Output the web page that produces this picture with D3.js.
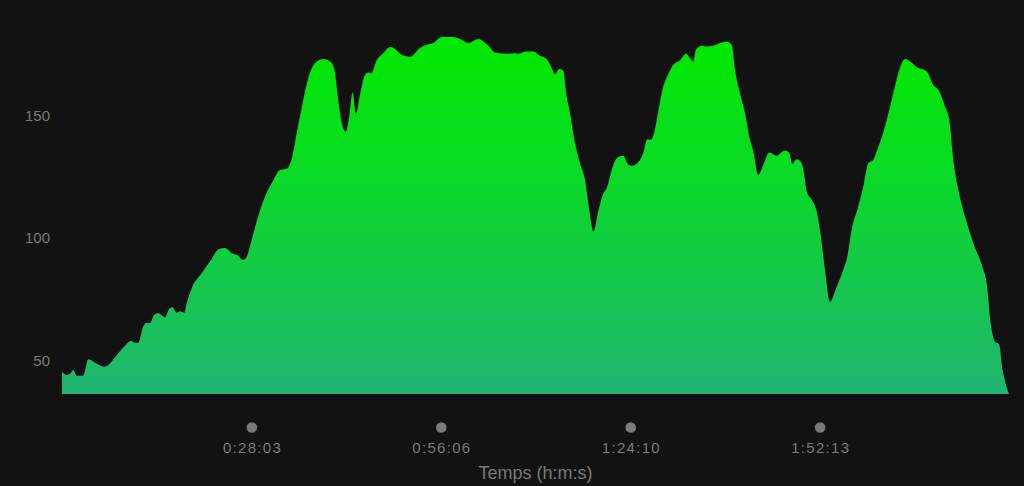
<!DOCTYPE html>
<html>
<head>
<meta charset="utf-8">
<script src="https://cdn.jsdelivr.net/npm/d3@7"></script>
<style>
  html, body { margin: 0; padding: 0; background: #121212; }
  svg { display: block; }
  .axis text { fill: #7a7a7a; font-family: "Liberation Sans", Arial, sans-serif; }
</style>
</head>
<body>
<div id="wrapper"></div>
<script>
// heart rate over time (seconds, bpm)
const times = [0,42,71,100,131,189,234,293,376,411,471,560,613,643,678,723,753,782,820,856,915,951,980,1019,1049,1087,1108,1153,1241,1315,1395,1449,1508,1561,1606,1641,1686,1730,1804,1872,1937,2002,2050,2086,2130,2189,2248,2322,2382,2417,2455,2486,2521,2553,2583,2613,2648,2693,2722,2752,2791,2855,2915,2959,3019,3093,3182,3241,3300,3374,3478,3552,3611,3700,3744,3789,3848,3952,4026,4055,4115,4188,4248,4307,4352,4381,4420,4455,4485,4515,4559,4603,4648,4686,4722,4766,4811,4841,4885,4930,4988,5033,5063,5137,5166,5201,5232,5261,5299,5344,5379,5433,5492,5545,5581,5610,5634,5685,5714,5788,5848,5907,5952,5981,6025,6070,6114,6144,6188,6233,6286,6351,6425,6464,6490,6529,6565,6594,6618,6663,6707,6736,6781,6825,6885,6943,6979,7018,7077,7121,7166,7210,7240,7314,7388,7447,7492,7536,7596,7685,7743,7788,7847,7885,7921,7966,8025,8099,8188,8218,8253,8292,8327,8360,8416];
const heartRate = [45.1,43.8,44.2,45.8,43.5,43.5,50.2,48.8,47.2,47.8,51.0,55.7,57.8,57.0,57.0,63.8,65.2,65.0,68.4,69.0,67.4,70.7,71.5,69.3,69.9,69.3,73.1,79.3,85.4,90.2,95.3,95.7,93.6,92.8,90.9,92.2,99.1,106.6,116.8,123.0,127.7,128.3,133.9,142.8,153.0,165.3,171.4,173.1,172.1,169.4,156.4,146.9,143.4,149.6,159.4,150.7,158.5,166.6,167.6,167.3,172.1,175.5,178.0,177.2,174.8,174.0,177.6,178.9,179.6,182.1,182.1,181.0,179.6,181.3,180.3,178.5,175.8,175.2,175.5,175.2,176.2,176.2,174.4,173.1,169.4,166.9,169.0,168.3,157.8,151.0,138.7,130.5,123.6,111.4,102.5,110.7,118.2,120.2,127.7,132.5,133.5,129.8,129.4,131.8,134.6,140.3,140.0,142.5,151.6,161.9,165.9,170.7,172.5,175.2,173.5,172.1,176.9,178.5,178.2,178.5,179.6,180.3,178.9,168.7,159.1,151.0,140.0,135.2,125.7,129.8,134.8,133.5,135.6,134.6,130.2,132.1,131.1,126.4,118.9,115.5,110.7,103.2,86.8,73.8,79.9,86.8,92.2,103.2,112.7,120.9,130.5,131.8,135.2,145.5,159.1,169.4,173.1,172.1,169.8,168.0,162.5,160.5,153.7,148.2,131.8,119.5,108.6,97.7,86.8,81.3,65.0,57.4,56.5,45.8,36.0];

const yTicks = [50, 100, 150];
const xTickSeconds = [1683, 3366, 5050, 6733];
const xTickLabels = ["0:28:03", "0:56:06", "1:24:10", "1:52:13"];
const xTitle = "Temps (h:m:s)";

const data = d3.zip(times, heartRate).map(([t, v]) => ({t, v}));

const dimension = {
    width: 1024,
    height: 486,
    margin: { top: 37, left: 62, bottom: 92, right: 15 }
};
dimension.boundedWidth = dimension.width - dimension.margin.left - dimension.margin.right;
dimension.boundedHeight = dimension.height - dimension.margin.top - dimension.margin.bottom;

const svg = d3.select("#wrapper").append("svg")
    .attr("width", dimension.width)
    .attr("height", dimension.height);

svg.append("rect")
    .attr("width", dimension.width)
    .attr("height", dimension.height)
    .attr("fill", "#121212");

const bounded = svg.append("g")
    .attr("transform", `translate(${dimension.margin.left},${dimension.margin.top})`);

const xScale = d3.scaleLinear()
    .domain(d3.extent(times))
    .range([0, dimension.boundedWidth]);

const yScale = d3.scaleLinear()
    .domain(d3.extent(heartRate))
    .range([dimension.boundedHeight, 0]);

// gradient fill
const grad = svg.append("defs").append("linearGradient")
    .attr("id", "hrFill")
    .attr("gradientUnits", "userSpaceOnUse")
    .attr("x1", 0).attr("x2", 0)
    .attr("y1", 0).attr("y2", dimension.boundedHeight);
grad.append("stop").attr("offset", "0%").attr("stop-color", "#00e800");
grad.append("stop").attr("offset", "35%").attr("stop-color", "#08dc22");
grad.append("stop").attr("offset", "100%").attr("stop-color", "#21b573");

const area = d3.area()
    .x(d => xScale(d.t))
    .y0(dimension.boundedHeight)
    .y1(d => yScale(d.v))
    .curve(d3.curveMonotoneX);

bounded.append("path")
    .datum(data)
    .attr("d", area)
    .attr("fill", "url(#hrFill)");

// y axis
const yAxisGroup = bounded.append("g")
    .classed("axis", true)
    .attr("transform", "translate(-12,0)")
    .call(d3.axisLeft(yScale).tickValues(yTicks).tickSize(0).tickPadding(0));
yAxisGroup.select(".domain").remove();
yAxisGroup.selectAll("text")
    .attr("font-size", "15px")
    .attr("dy", "0.35em");

// x axis: dots + labels
const xAxisGroup = bounded.append("g")
    .classed("axis", true)
    .attr("transform", `translate(0,${dimension.boundedHeight})`)
    .call(d3.axisBottom(xScale)
        .tickValues(xTickSeconds)
        .tickFormat((d, i) => xTickLabels[i])
        .tickSize(0)
        .tickPadding(0));
xAxisGroup.select(".domain").remove();
xAxisGroup.selectAll(".tick text")
    .attr("font-size", "15px")
    .attr("letter-spacing", "1.3px")
    .attr("x", 0.6)
    .attr("y", 59)
    .attr("dy", 0);
xAxisGroup.selectAll(".tick")
    .append("circle")
    .attr("cy", 33.5)
    .attr("r", 5.3)
    .attr("fill", "#7a7a7a");

bounded.append("text")
    .classed("axis", true)
    .attr("x", dimension.boundedWidth / 2)
    .attr("y", dimension.boundedHeight + 85)
    .attr("text-anchor", "middle")
    .attr("font-family", "Liberation Sans, Arial, sans-serif")
    .attr("font-size", "18px")
    .attr("fill", "#7a7a7a")
    .text(xTitle);
</script>
</body>
</html>
